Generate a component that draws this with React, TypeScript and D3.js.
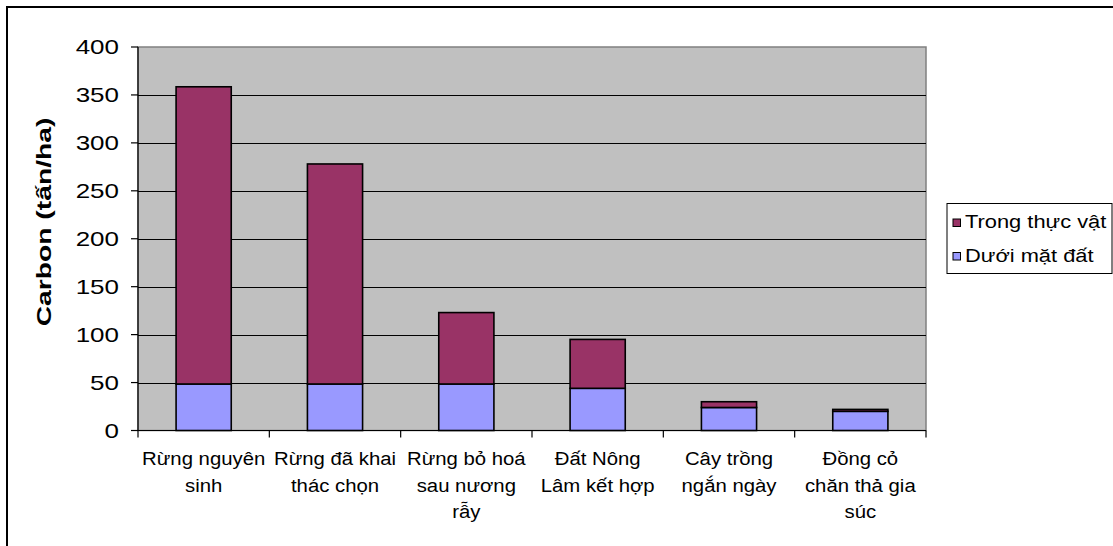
import React from "react";
import * as d3 from "d3";

const categories: string[][] = [
  ["Rừng nguyên", "sinh"],
  ["Rừng đã khai", "thác chọn"],
  ["Rừng bỏ hoá", "sau nương", "rẫy"],
  ["Đất Nông", "Lâm kết hợp"],
  ["Cây trồng", "ngắn ngày"],
  ["Đồng cỏ", "chăn thả gia", "súc"],
];
const underground: number[] = [48.5, 48.5, 48.5, 44, 24, 20];
const vegetation: number[] = [310, 229.5, 74.5, 51, 6, 2];
const seriesNames: string[] = ["Trong thực vật", "Dưới mặt đất"];
const yTicks: number[] = [0, 50, 100, 150, 200, 250, 300, 350, 400];
const yTitle = "Carbon (tấn/ha)";

const W = 1113;
const H = 546;
const plot = { left: 138, right: 926, top: 47, bottom: 430.5 };
const colVeg = "#993366";
const colUnder = "#9999FF";
const FONT = "'Liberation Sans', Arial, sans-serif";

export default function App() {
  const x = d3
    .scaleBand<number>()
    .domain(categories.map((_, i) => i))
    .range([plot.left, plot.right])
    .padding(0);
  const y = d3.scaleLinear().domain([0, 400]).range([plot.bottom, plot.top]);
  const bw = x.bandwidth() * 0.42;

  const stackData = categories.map((_, i) => ({
    i,
    under: underground[i],
    veg: vegetation[i],
  }));
  const stack = d3.stack<any>().keys(["under", "veg"])(stackData);

  return (
    <svg
      width={W}
      height={H}
      style={{ position: "absolute", left: 0, top: 0, background: "#fff" }}
      fontFamily={FONT}
    >
      <rect x={7} y={7} width={W + 20} height={H + 20} fill="#fff" stroke="#000" strokeWidth={2} />

      <rect
        x={plot.left}
        y={plot.top}
        width={plot.right - plot.left}
        height={plot.bottom - plot.top}
        fill="#C0C0C0"
        stroke="#808080"
        strokeWidth={1.5}
      />

      {yTicks
        .filter((t) => t > 0 && t < 400)
        .map((t) => (
          <line
            key={t}
            x1={plot.left}
            x2={plot.right}
            y1={Math.round(y(t)) + 0.5}
            y2={Math.round(y(t)) + 0.5}
            stroke="#000"
            strokeWidth={1}
          />
        ))}

      {stack.map((layer, li) =>
        layer.map((d, i) => {
          const cx = (x(i) as number) + x.bandwidth() / 2;
          return (
            <rect
              key={li + "-" + i}
              x={cx - bw / 2}
              y={y(d[1])}
              width={bw}
              height={y(d[0]) - y(d[1])}
              fill={li === 0 ? colUnder : colVeg}
              stroke="#000"
              strokeWidth={1.6}
            />
          );
        })
      )}

      <line x1={plot.left} x2={plot.left} y1={plot.top} y2={plot.bottom} stroke="#000" strokeWidth={1.2} />
      {yTicks.map((t) => (
        <g key={t}>
          <line x1={plot.left - 7} x2={plot.left} y1={y(t)} y2={y(t)} stroke="#000" strokeWidth={1.2} />
          <text
            transform={`translate(119,${y(t) + 7}) scale(1.3,1)`}
            textAnchor="end"
            fontSize={20}
            fill="#000"
          >
            {t}
          </text>
        </g>
      ))}

      <line x1={plot.left} x2={plot.right} y1={plot.bottom} y2={plot.bottom} stroke="#000" strokeWidth={1.2} />
      {d3.range(categories.length + 1).map((k) => {
        const xx = plot.left + k * x.bandwidth();
        return <line key={k} x1={xx} x2={xx} y1={plot.bottom} y2={plot.bottom + 7} stroke="#000" strokeWidth={1.2} />;
      })}
      {categories.map((lines, i) => {
        const cx = (x(i) as number) + x.bandwidth() / 2;
        return lines.map((ln, j) => (
          <text
            key={i + "-" + j}
            transform={`translate(${cx},${465 + j * 26.5}) scale(1.13,1)`}
            textAnchor="middle"
            fontSize={18}
            fill="#000"
          >
            {ln}
          </text>
        ));
      })}

      <text
        transform={`translate(51,222) rotate(-90) scale(1.45,1)`}
        textAnchor="middle"
        fontSize={19.5}
        fontWeight="bold"
        fill="#000"
      >
        {yTitle}
      </text>

      <rect x={947} y={203.5} width={165} height={70} fill="#fff" stroke="#000" strokeWidth={1} />
      {seriesNames.map((name, k) => (
        <g key={name}>
          <rect
            x={953}
            y={219 + k * 33.5}
            width={7.5}
            height={7.5}
            fill={k === 0 ? colVeg : colUnder}
            stroke="#000"
            strokeWidth={1}
          />
          <text
            transform={`translate(965,${227.5 + k * 34}) scale(1.15,1)`}
            fontSize={19}
            fill="#000"
          >
            {name}
          </text>
        </g>
      ))}
    </svg>
  );
}
